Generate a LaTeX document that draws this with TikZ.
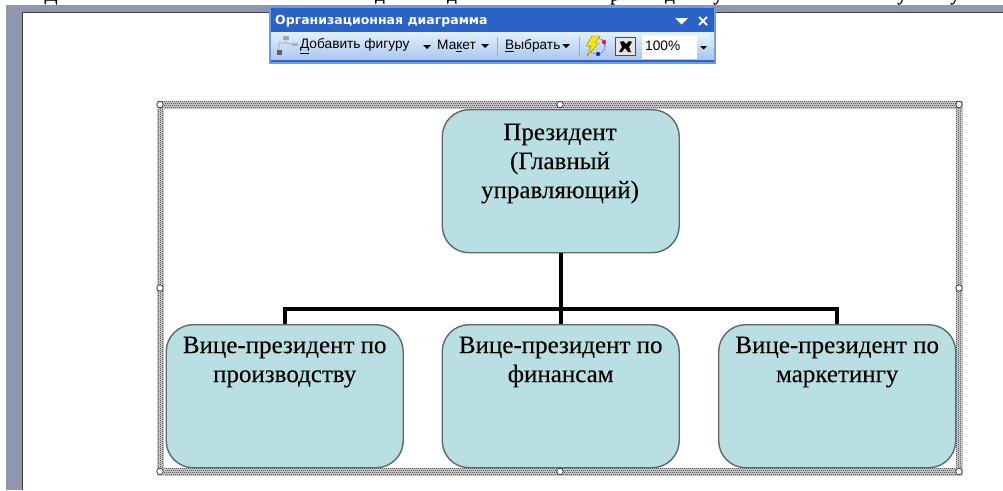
\documentclass[tikz,border=0pt]{standalone}
\usepackage{fontspec}
\setmainfont{Liberation Serif}[FakeBold=0.15]
\newfontfamily\uifont{Liberation Sans}
\newfontfamily\uibold{DejaVu Sans}[BoldFont={DejaVu Sans Bold}]
\definecolor{boxfill}{HTML}{B9DFE2}
\definecolor{boxline}{HTML}{5C6A6C}
\definecolor{band}{HTML}{8E97AF}
\definecolor{titleblue}{HTML}{2A62C8}
\definecolor{edgeblue}{HTML}{6E9BE0}
\definecolor{tbtop}{HTML}{E3EFFD}
\definecolor{tbbot}{HTML}{A9C8EE}
\definecolor{sepblue}{HTML}{8FB0DC}
\tikzset{
  x=1pt,y=-1pt,
  orgbox/.style={draw=boxline,line width=1.4pt,fill=boxfill,rounded corners=27pt,
    minimum width=237pt,minimum height=143pt,inner sep=0pt,anchor=north west},
  orgtext/.style={font=\fontsize{25}{29}\selectfont,align=center,anchor=north,inner sep=0pt,text=black},
  link/.style={line width=4pt,black,line join=miter},
  handle/.style={circle,draw=black!75,fill=white,line width=.8pt,minimum size=6.5pt,inner sep=0pt},
  tbtext/.style={font=\uifont\fontsize{13.7}{15}\selectfont,anchor=west,inner sep=0pt,text=black},
  toptext/.style={font=\fontsize{19}{22}\selectfont,anchor=base,inner sep=0pt},
  hatchline/.style={black!65,line width=1pt,dash pattern=on 1pt off 1pt},
}
\newcommand{\hatchh}[3]{% x1,x2,ytop
  \fill[gray!45] (#1,#3) rectangle (#2,#3+7.5);
  \foreach \ya/\ph in {1/0,3/1,5/0,7/1}
    \draw[hatchline,dash phase=\ph pt] (#1,#3+\ya-.3) -- (#2,#3+\ya-.3);}
\newcommand{\hatchv}[3]{% y1,y2,xleft
  \fill[gray!45] (#3,#1) rectangle (#3+7,#2);
  \foreach \ya/\ph in {1/0,3/1,5/0}
    \draw[hatchline,dash phase=\ph pt] (#3+\ya,#1) -- (#3+\ya,#2);}
\begin{document}
\begin{tikzpicture}
\useasboundingbox (0,0) rectangle (1003,490);
% page edge
\fill[white] (0,0) rectangle (1003,490);
\fill[band] (6,5) rectangle (1003,12.5);
\fill[band] (6,5) rectangle (22,490);
\draw[black!75,line width=1pt] (22.5,490) -- (22.5,12.5) -- (1003,12.5);
% clipped line of text at the very top
\begin{scope}
\clip (0,0) rectangle (1003,4.6);
\node[toptext] (topa) at (51,.5) {Д};
\node[toptext] (topb) at (380,.5) {д};
\node[toptext] (topc) at (452,.5) {д};
\node[toptext] (topd) at (615,.5) {р};
\node[toptext] (tope) at (670,.5) {д};
\node[toptext] (topf) at (718,.5) {у};
\node[toptext] (topg) at (902,.5) {у};
\node[toptext] (toph) at (955,.5) {у};
\end{scope}
% selection frame
\hatchh{158}{963}{101}
\hatchh{158}{963}{468}
\hatchv{101}{475}{157}
\hatchv{101}{475}{955.5}
% org chart boxes
\node[orgbox] (pres) at (441.5,109) {};
\node[orgbox] (vpa) at (165.5,324) {};
\node[orgbox] (vpb) at (441.5,324) {};
\node[orgbox] (vpc) at (718,324) {};
\coordinate (join) at (pres.south |- 0,309);
\draw[link] (pres.south) -- (vpb.north);
\draw[link] (vpa.north) |- (join);
\draw[link] (vpc.north) |- (join);
\node[orgtext] (prest) at (560,123.5) {Президент\\(Главный\\управляющий)};
\node[orgtext] (vpat) at (vpa.north |- 0,336.5) {Вице-президент по\\производству};
\node[orgtext] (vpbt) at (vpb.north |- 0,336.5) {Вице-президент по\\финансам};
\node[orgtext] (vpct) at (vpc.north |- 0,336.5) {Вице-президент по\\маркетингу};
% handles
\foreach \nm/\hx/\hy in {ha/160/104.5,hb/560/104.5,hc/959/104.5,hd/160/288,he/959/288,hf/160/471.5,hg/560/471.5,hh/959/471.5}
  \node[handle] (\nm) at (\hx,\hy) {};
% toolbar
\fill[edgeblue] (269,6) rectangle (716,64);
\fill[titleblue] (271,8) rectangle (714,32);
\shade[top color=tbtop,bottom color=tbbot] (271,32) rectangle (714,60);
\fill[titleblue] (271,60) rectangle (714,62);
\node[font=\uibold\bfseries\fontsize{12.5}{14}\selectfont,text=white,anchor=west,inner sep=0pt] (title) at (275,21) {Организационная диаграмма};
\fill[white] (675,18) -- (688,18) -- (681.5,24.5) -- cycle;
\draw[white,line width=1.8pt] (699,17) -- (707,25) (707,17) -- (699,25);
% org chart icon
\fill[gray!70] (283,36) rectangle (289,40);
\fill[gray!60] (292,43) rectangle (298,46);
\fill[gray!75!black] (277,50) rectangle (282,55);
\draw[gray!70,line width=.7pt] (286,40) -- (286,43) -- (279,43) -- (279,50) (286,43) -- (292,44);
\node[tbtext] (add) at (300,46) {\underline{Д}обавить фигуру};
\fill[black] (423,45) -- (431,45) -- (427,49) -- cycle;
\node[tbtext] (layout) at (437,46) {Ма\underline{к}ет};
\fill[black] (481,44) -- (489,44) -- (485,48) -- cycle;
\draw[sepblue,line width=1pt] (497,37) -- (497,56);
\node[tbtext] (select) at (505,46) {\underline{В}ыбрать};
\fill[black] (562,44) -- (570,44) -- (566,48) -- cycle;
\draw[sepblue,line width=1pt] (579,37) -- (579,56);
% lightning icon
\draw[blue!60!gray,line width=1pt,dotted] (597,46) circle (8);
\fill[yellow!85!orange,draw=olive,line width=.4pt] (592,36) -- (600,36) -- (595,43) -- (599,43) -- (587,56) -- (591,46) -- (586,46) -- cycle;
\fill[red!70!gray] (604,42) circle (2.2);
\fill[blue!70!gray] (598,54) circle (2.2);
% autofit icon
\fill[gray!20] (615,37) rectangle (635,55);
\draw[black!70,line width=.8pt] (615,37) rectangle (635,55);
\fill[black] (620,42) -- (623,41) -- (626,44) -- (629,41) -- (632,42) -- (629,47) -- (631,52) -- (628,52) -- (625,48) -- (622,52) -- (619,52) -- (622,47) -- cycle;
% zoom combo
\fill[white] (642,35) rectangle (710,59);
\shade[top color=tbtop,bottom color=tbbot] (697,36) rectangle (710,58);
\node[tbtext] (zoompc) at (645,45.5) {100\%};
\fill[black] (700,46) -- (707,46) -- (703.5,49.5) -- cycle;
\end{tikzpicture}
\end{document}
